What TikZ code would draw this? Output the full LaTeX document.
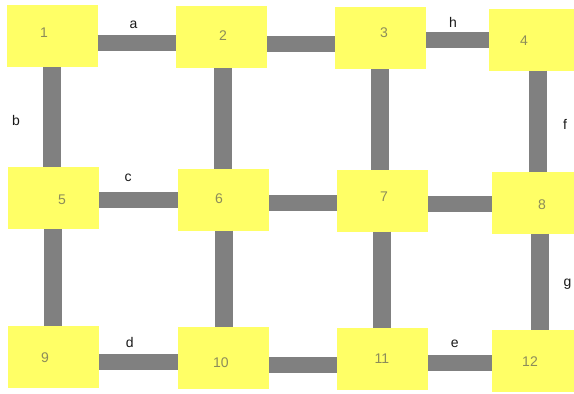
\documentclass[tikz,border=0pt]{standalone}
\usepackage{fontspec}
\setmainfont{Liberation Sans}
\usetikzlibrary{positioning}
\definecolor{padyellow}{RGB}{255,255,102}
\definecolor{bargrey}{RGB}{128,128,128}
\definecolor{numolive}{RGB}{140,140,90}
\definecolor{inkblack}{RGB}{25,25,25}

\begin{document}
\begin{tikzpicture}[
    x=1pt, y=-1pt,
    font=\fontsize{14}{16}\selectfont,
    pad/.style={fill=padyellow, draw=none, minimum width=91pt, minimum height=62pt, inner sep=0pt, outer sep=0pt},
    num/.style={text=numolive, inner sep=0pt},
    hbar/.style={draw=bargrey, line width=16pt},
    vbar/.style={draw=bargrey, line width=18pt},
    lbl/.style={text=inkblack, inner sep=0pt},
]
\useasboundingbox (0,0) rectangle (574,394);
\clip (0,0) rectangle (574,394);

% ---------------------------------------------------------------- pads ---
\foreach \n/\x/\y/\dx/\dy in {1/52/36/-8/3, 2/221.5/37/1.5/1, 3/380.5/38/3.5/5.5, 4/534.5/39.5/-10.5/-1.5,
    5/53.5/198/8.5/-2, 6/223.5/199.5/-4.5/0.5, 7/382.5/200.5/1.5/3.5, 8/537.5/202.5/4.5/-2.5,
    9/53.5/357/-8.5/-1, 10/223.5/357.5/-2.5/-5, 11/382.5/358.5/-0.5/0, 12/537.5/360.5/-7.5/-1}{
  \node[pad] (p\n) at (\x,\y) {};
  \node[num] (t\n) at ([xshift=\dx pt, yshift=\dy pt]p\n.center) {\n};
}

% -------------------------------------------------------- row bars ---
\draw[hbar] ([yshift=-6.5pt]p1.east) -- node[lbl, pos=0.46, yshift=17.5pt] (la) {a} ([yshift=-5.5pt]p2.west);
\draw[hbar] ([yshift=-6.5pt]p2.east) -- ([yshift=-5.5pt]p3.west);
\draw[hbar] ([yshift=-2pt]p3.east) -- node[lbl, pos=0.43, yshift=18pt] (lh) {h} ([yshift=-0.5pt]p4.west);

\draw[hbar] ([yshift=-2pt]p5.east) -- node[lbl, pos=0.37, yshift=22pt] (lc) {c} ([yshift=-0.5pt]p6.west);
\draw[hbar] ([yshift=-3.5pt]p6.east) -- ([yshift=-2.5pt]p7.west);
\draw[hbar] ([yshift=-3.5pt]p7.east) -- ([yshift=-1.5pt]p8.west);

\draw[hbar] ([yshift=-5pt]p9.east) -- node[lbl, pos=0.39, yshift=20pt] (ld) {d} ([yshift=-4.5pt]p10.west);
\draw[hbar] ([yshift=-7pt]p10.east) -- ([yshift=-6pt]p11.west);
\draw[hbar] ([yshift=-4.5pt]p11.east) -- node[lbl, pos=0.42, yshift=19pt] (le) {e} ([yshift=-2.5pt]p12.west);

% ----------------------------------------------------- column bars ---
\draw[vbar] (p1.south) -- node[lbl, pos=0.53, xshift=-36pt] (lb) {b} ([xshift=-1.5pt]p5.north);
\draw[vbar] ([xshift=1.5pt]p2.south) -- ([xshift=-0.5pt]p6.north);
\draw[vbar] ([xshift=-0.5pt]p3.south) -- ([xshift=-2.5pt]p7.north);
\draw[vbar] ([xshift=3.5pt]p4.south) -- node[lbl, pos=0.53, xshift=27pt] (lf) {f} ([xshift=0.5pt]p8.north);

\draw[vbar] ([xshift=-1pt]p5.south) -- ([xshift=-1pt]p9.north);
\draw[vbar] ([xshift=0.5pt]p6.south) -- ([xshift=0.5pt]p10.north);
\draw[vbar] ([xshift=-0.5pt]p7.south) -- ([xshift=-0.5pt]p11.north);
\draw[vbar] ([xshift=2pt]p8.south) -- node[lbl, pos=0.53, xshift=28pt] (lg) {g} ([xshift=2pt]p12.north);

\end{tikzpicture}
\end{document}
